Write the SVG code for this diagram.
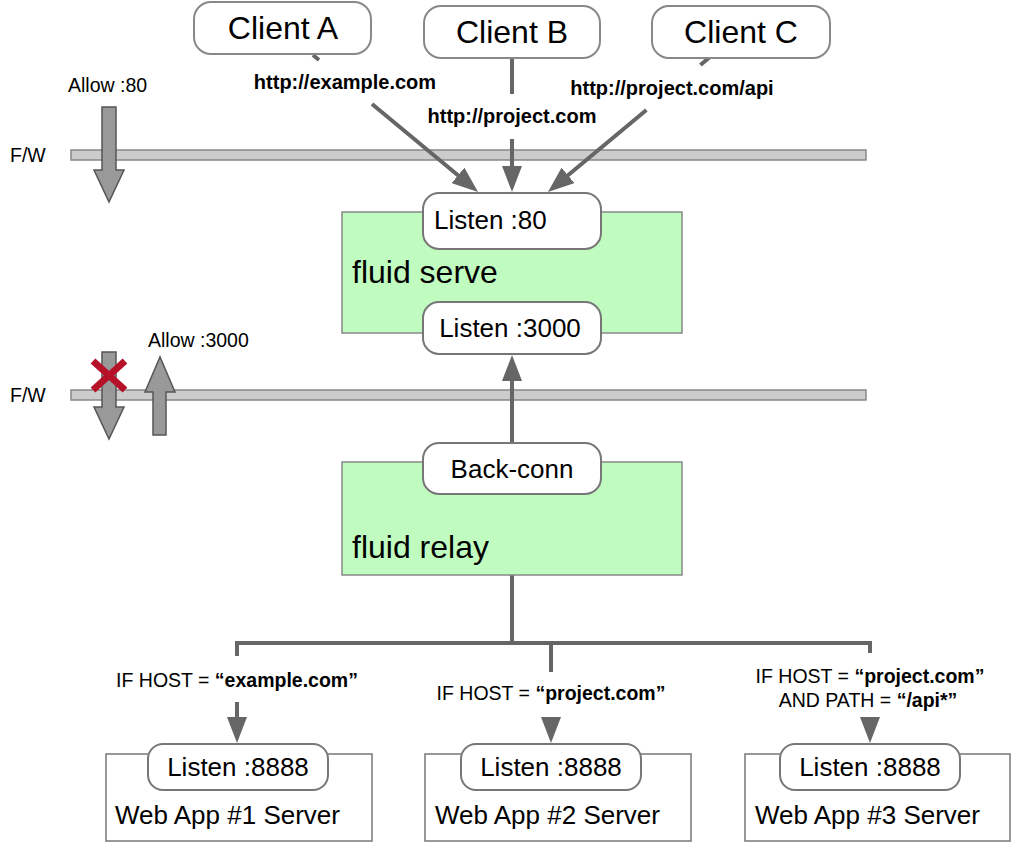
<svg xmlns="http://www.w3.org/2000/svg" width="1012" height="844" viewBox="0 0 1012 844">
<style>
text{font-family:"Liberation Sans",Arial,Helvetica,sans-serif;fill:#000}
.client{fill:#fff;stroke:#888;stroke-width:2}
.pill{fill:#fff;stroke:#777;stroke-width:2}
.green{fill:#c0fcc0;stroke:#888;stroke-width:1.5}
.app{fill:#fff;stroke:#777;stroke-width:1.5}
.bar{fill:#ccc;stroke:#888;stroke-width:1.5}
.fat{fill:#999;stroke:#555;stroke-width:1.5}
.conn{fill:none;stroke:#666;stroke-width:4}
.arr{marker-end:url(#ah)}
.url{font-size:20px;font-weight:bold;text-anchor:middle}
.small{font-size:19.5px}
.big{font-size:32px}
.mid{font-size:26px}
.app-t{font-size:26px}
.cond{font-size:19.5px;text-anchor:middle}
.c{text-anchor:middle}
</style>
<defs>
<marker id="ah" markerUnits="userSpaceOnUse" markerWidth="26" markerHeight="20" viewBox="0 0 26 20" refX="14" refY="10" orient="auto">
<path d="M0,0 L26,10 L0,20 z" fill="#666"/>
</marker>
</defs>

<g id="firewalls">
<text x="10" y="162" class="small">F/W</text>
<rect class="bar" x="71" y="150" width="795" height="10"/>
<text x="10" y="402" class="small">F/W</text>
<rect class="bar" x="71" y="390" width="795" height="10"/>
<text x="68" y="92" class="small">Allow :80</text>
<polygon class="fat" points="102,107 116,107 116,170 124,170 109,202 94,170 102,170"/>
<text x="148" y="347" class="small">Allow :3000</text>
<polygon class="fat" points="102,352 116,352 116,407 124,407 109,439 94,407 102,407"/>
<polygon class="fat" points="153,435 166,435 166,392 175,392 160,357 145,392 153,392"/>
<path d="M93,361 L125,390 M125,361 L93,390" stroke="#b5122a" stroke-width="7" fill="none"/>
</g>

<g id="connectors">
<path class="conn arr" d="M313,55 L319,60 M372,104 L468.8,184.3"/>
<path class="conn arr" d="M512,58 L512,94 M512,139 L512,180"/>
<path class="conn arr" d="M710,57 L700.4,65 M646.4,110 L557.2,184.3"/>
<path class="conn arr" d="M512,443 L512,367"/>
<path class="conn" d="M512,575 V643 M237,643 H870 M237,641 V656 M551,641 V672 M870,641 V653"/>
<path class="conn arr" d="M237,702 V731"/>
<path class="conn arr" d="M551,719 V731"/>
<path class="conn arr" d="M870,719 V731"/>
<text x="345" y="89" class="url">http://example.com</text>
<text x="512" y="123" class="url">http://project.com</text>
<text x="672" y="95" class="url">http://project.com/api</text>
<text x="237" y="687" class="cond">IF HOST = <tspan font-weight="bold">“example.com”</tspan></text>
<text x="551" y="700" class="cond">IF HOST = <tspan font-weight="bold">“project.com”</tspan></text>
<text x="870" y="683" class="cond">IF HOST = <tspan font-weight="bold">“project.com”</tspan></text>
<text x="868" y="707" class="cond">AND PATH = <tspan font-weight="bold">“/api*”</tspan></text>
</g>

<g id="client-a">
<rect class="client" x="194" y="2" width="177" height="52" rx="17"/>
<text x="283" y="39" class="big c">Client A</text>
</g>
<g id="client-b">
<rect class="client" x="424" y="6" width="176" height="52" rx="17"/>
<text x="512" y="43" class="big c">Client B</text>
</g>
<g id="client-c">
<rect class="client" x="652" y="6" width="178" height="52" rx="17"/>
<text x="741" y="43" class="big c">Client C</text>
</g>

<g id="fluid-serve">
<rect class="green" x="342" y="212" width="340" height="121"/>
<text x="352" y="283" class="big">fluid serve</text>
<g id="listen-80">
<rect class="pill" x="423" y="193" width="178" height="56" rx="16"/>
<text x="434" y="229" class="mid">Listen :80</text>
</g>
<g id="listen-3000">
<rect class="pill" x="423" y="302" width="178" height="52" rx="16"/>
<text x="510" y="337" class="mid c">Listen :3000</text>
</g>
</g>

<g id="fluid-relay">
<rect class="green" x="342" y="462" width="340" height="113"/>
<text x="352" y="558" class="big">fluid relay</text>
<g id="back-conn">
<rect class="pill" x="423" y="443" width="178" height="51" rx="16"/>
<text x="512" y="478" class="mid c">Back-conn</text>
</g>
</g>

<g id="web-app-1">
<rect class="app" x="106" y="754" width="266" height="87"/>
<rect class="pill" x="148" y="744" width="180" height="46" rx="15"/>
<text x="238" y="776" class="mid c">Listen :8888</text>
<text x="115" y="824" class="app-t">Web App #1 Server</text>
</g>
<g id="web-app-2">
<rect class="app" x="425" y="754" width="266" height="87"/>
<rect class="pill" x="461" y="744" width="180" height="46" rx="15"/>
<text x="551" y="776" class="mid c">Listen :8888</text>
<text x="435" y="824" class="app-t">Web App #2 Server</text>
</g>
<g id="web-app-3">
<rect class="app" x="745" y="754" width="265" height="87"/>
<rect class="pill" x="780" y="744" width="180" height="46" rx="15"/>
<text x="870" y="776" class="mid c">Listen :8888</text>
<text x="755" y="824" class="app-t">Web App #3 Server</text>
</g>
</svg>
